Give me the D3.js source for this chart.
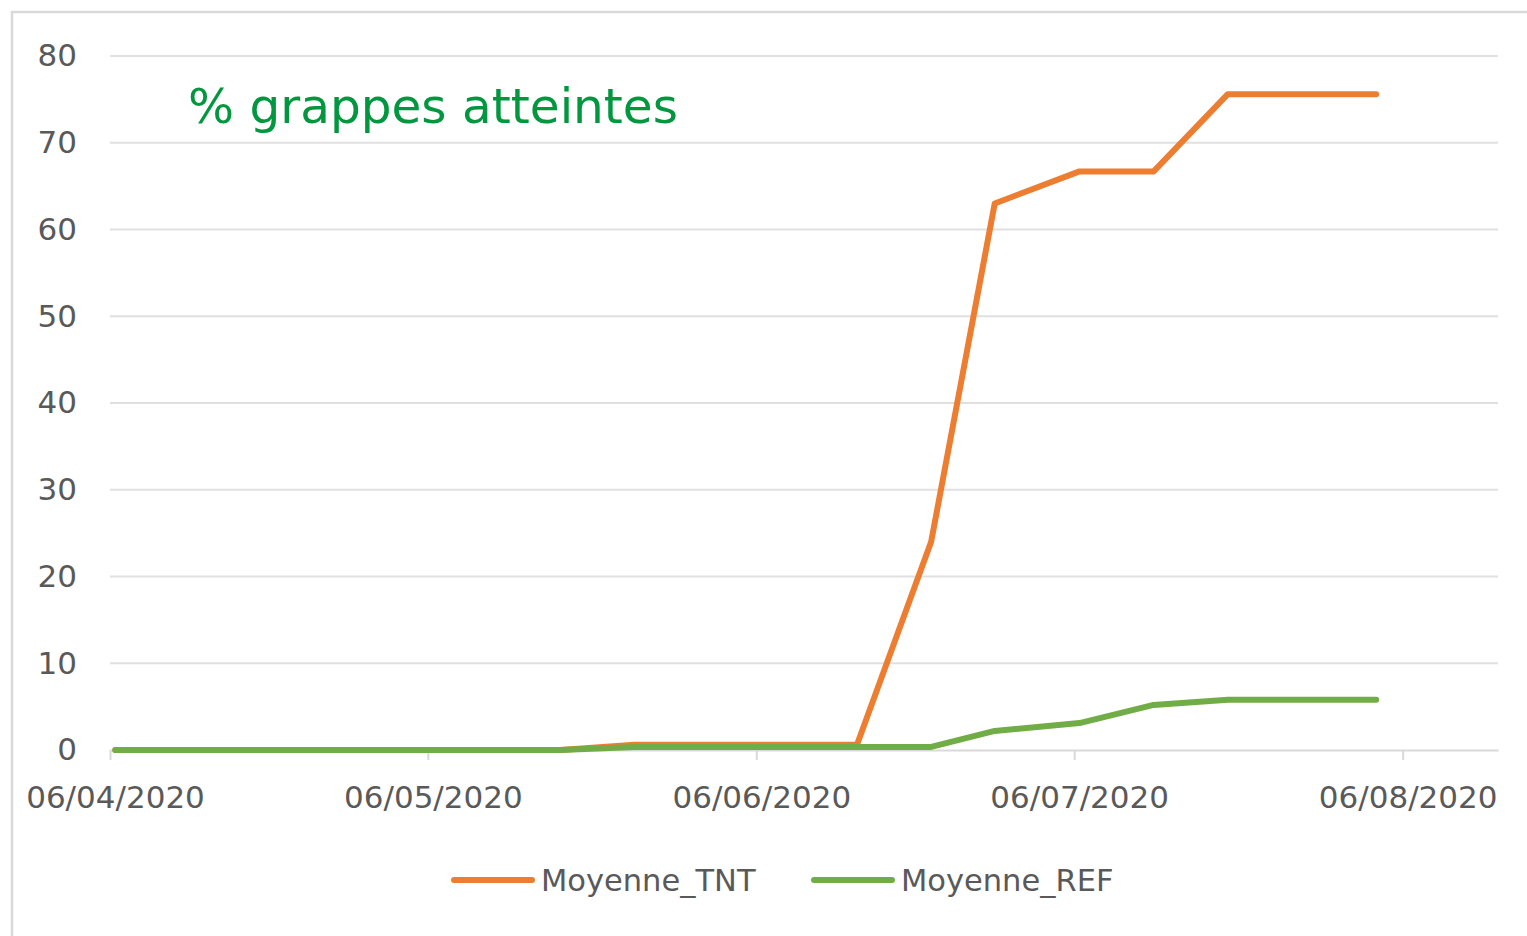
<!DOCTYPE html>
<html>
<head>
<meta charset="utf-8">
<script src="https://cdn.jsdelivr.net/npm/d3@7"></script>
<style>
  body { margin: 0; background: #fff; }
  svg { display: block; font-family: "DejaVu Sans", Verdana, sans-serif; }
</style>
</head>
<body>
<div id="chart"></div>
<script>
// weekly samples (dd/mm/yyyy), only the vertices that show on the chart
const dates = ['06/04/2020', '18/05/2020', '25/05/2020', '15/06/2020', '22/06/2020',
  '28/06/2020', '06/07/2020', '13/07/2020', '20/07/2020', '03/08/2020'];
const moyenneTNT = [0, 0, 0.6, 0.6, 24, 63, 66.7, 66.7, 75.6, 75.6];
const moyenneREF = [0, 0, 0.35, 0.35, 0.35, 2.2, 3.1, 5.2, 5.8, 5.8];
const xTickDates = ['06/04/2020', '06/05/2020', '06/06/2020', '06/07/2020', '06/08/2020'];
const yTicks = [0, 10, 20, 30, 40, 50, 60, 70, 80];
const seriesNames = ['Moyenne_TNT', 'Moyenne_REF'];
const colors = ['#ED7D31', '#70AD47'];

const W = 1527, H = 936;
const parse = d3.timeParse('%d/%m/%Y');
const fmt = d3.timeFormat('%d/%m/%Y');

const svg = d3.select('#chart').append('svg')
  .attr('width', W)
  .attr('height', H);

// chart frame
svg.append('rect')
  .attr('x', 12).attr('y', 12)
  .attr('width', W + 20).attr('height', H + 20)
  .attr('fill', '#fff')
  .attr('stroke', '#d9d9d9')
  .attr('stroke-width', 2.5);

const x = d3.scaleTime()
  .domain([parse('06/04/2020'), parse('15/08/2020')])
  .range([110, 1498]);
const y = d3.scaleLinear()
  .domain([0, 80])
  .range([750, 56]);

// gridlines
svg.append('g')
  .selectAll('line')
  .data(yTicks.filter(v => v > 0))
  .join('line')
  .attr('x1', 110).attr('x2', 1498)
  .attr('y1', d => y(d)).attr('y2', d => y(d))
  .attr('stroke', '#e0e0e0')
  .attr('stroke-width', 2);

// y axis labels
const yAxis = svg.append('g')
  .attr('transform', 'translate(110,0)')
  .call(d3.axisLeft(y).tickValues(yTicks).tickSize(0).tickPadding(33));
yAxis.select('.domain').remove();
yAxis.selectAll('text')
  .attr('fill', '#595959')
  .attr('font-size', 31)
  .attr('font-family', '"DejaVu Sans", Verdana, sans-serif');

// x axis
const xAxis = svg.append('g')
  .attr('transform', 'translate(0,750)')
  .call(d3.axisBottom(x)
    .tickValues(xTickDates.map(parse))
    .tickFormat(fmt)
    .tickSize(10)
    .tickPadding(26)
    .tickSizeOuter(0));
xAxis.select('.domain')
  .attr('stroke', '#d9d9d9')
  .attr('stroke-width', 2);
xAxis.selectAll('.tick line')
  .attr('stroke', '#d9d9d9')
  .attr('stroke-width', 2);
xAxis.selectAll('text')
  .attr('fill', '#595959')
  .attr('font-size', 31)
  .attr('font-family', '"DejaVu Sans", Verdana, sans-serif');
xAxis.selectAll('.tick text').attr('dx', 5);

// points sit in the middle of their day
const line = d3.line()
  .x(d => x(d3.timeHour.offset(d.date, 12)))
  .y(d => y(d.value));

const series = [moyenneTNT, moyenneREF].map((vals, i) => ({
  name: seriesNames[i],
  color: colors[i],
  values: vals.map((v, j) => ({date: parse(dates[j]), value: v}))
}));

// REF drawn last so it sits on top of TNT near zero
svg.append('g')
  .selectAll('path')
  .data(series)
  .join('path')
  .attr('d', d => line(d.values))
  .attr('fill', 'none')
  .attr('stroke', d => d.color)
  .attr('stroke-width', 6)
  .attr('stroke-linejoin', 'round')
  .attr('stroke-linecap', 'round');

// title
svg.append('text')
  .attr('x', 188)
  .attr('y', 123)
  .attr('fill', '#00973F')
  .attr('font-size', 48.5)
  .text('% grappes atteintes');

// legend
const legendX = [452, 812];
const legend = svg.append('g')
  .selectAll('g')
  .data(series)
  .join('g')
  .attr('transform', (d, i) => `translate(${legendX[i]},880)`);
legend.append('line')
  .attr('x1', 2).attr('x2', 80)
  .attr('stroke', d => d.color)
  .attr('stroke-width', 6)
  .attr('stroke-linecap', 'round');
legend.append('text')
  .attr('x', 89)
  .attr('dy', '0.36em')
  .attr('fill', '#595959')
  .attr('font-size', 30.5)
  .text(d => d.name);
</script>
</body>
</html>
